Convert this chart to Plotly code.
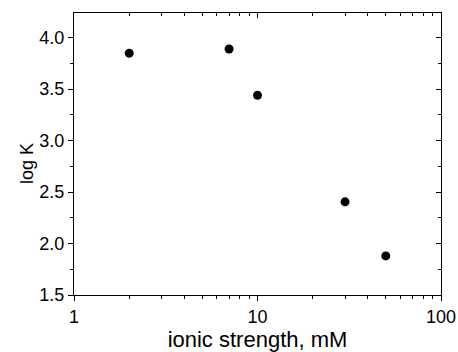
import plotly.graph_objects as go

ionic_strength = [2, 7, 10, 30, 50]
log_k = [3.85, 3.89, 3.44, 2.405, 1.88]

FONT = "Liberation Sans, Arial, sans-serif"
FS = 18

fig = go.Figure()
fig.add_trace(go.Scatter(x=ionic_strength, y=log_k, mode="markers",
                         marker=dict(color="black", size=9, line=dict(width=0)),
                         showlegend=False))
# invisible trace to anchor mirrored axes
fig.add_trace(go.Scatter(x=ionic_strength, y=log_k, mode="markers", xaxis="x2", yaxis="y2",
                         marker=dict(opacity=0), hoverinfo="skip", showlegend=False))

common = dict(showline=True, linecolor="black", linewidth=1, showgrid=False, zeroline=False,
              tickcolor="black", tickwidth=1, automargin=False)

fig.update_layout(
    width=458, height=352,
    margin=dict(l=74, r=17, t=13, b=57),
    paper_bgcolor="white", plot_bgcolor="white",
    font=dict(family=FONT, size=FS, color="black"),
    xaxis=dict(type="log", range=[0, 2], dtick=1, ticks="outside", ticklen=5,
               minor=dict(ticks="outside", ticklen=3, dtick="D1", tickcolor="black"),
               title=dict(text="ionic strength, mM", standoff=9),
               tickfont=dict(size=FS), **common),
    yaxis=dict(range=[1.5, 4.24], dtick=0.5, tick0=1.5, tickformat=".1f", ticks="outside", ticklen=5,
               minor=dict(ticks="outside", ticklen=3, dtick=0.25, tickcolor="black"),
               tickfont=dict(size=FS), **common),
    xaxis2=dict(type="log", range=[0, 2], dtick=1, overlaying="x", side="top", ticks="inside", ticklen=5,
                minor=dict(ticks="inside", ticklen=3, dtick="D1", tickcolor="black"),
                showticklabels=False, anchor="y", **common),
    yaxis2=dict(range=[1.5, 4.24], dtick=0.5, tick0=1.5, overlaying="y", side="right", ticks="inside", ticklen=5,
                minor=dict(ticks="inside", ticklen=3, dtick=0.25, tickcolor="black"),
                showticklabels=False, anchor="x", **common),
    annotations=[dict(text="log K", xref="paper", yref="paper", x=-0.128, y=0.4645,
                      xanchor="center", yanchor="middle", textangle=-90, showarrow=False,
                      font=dict(size=FS))],
)

fig.write_html("out.html", config={"displayModeBar": False},
               post_script="document.body.style.margin='0';")
